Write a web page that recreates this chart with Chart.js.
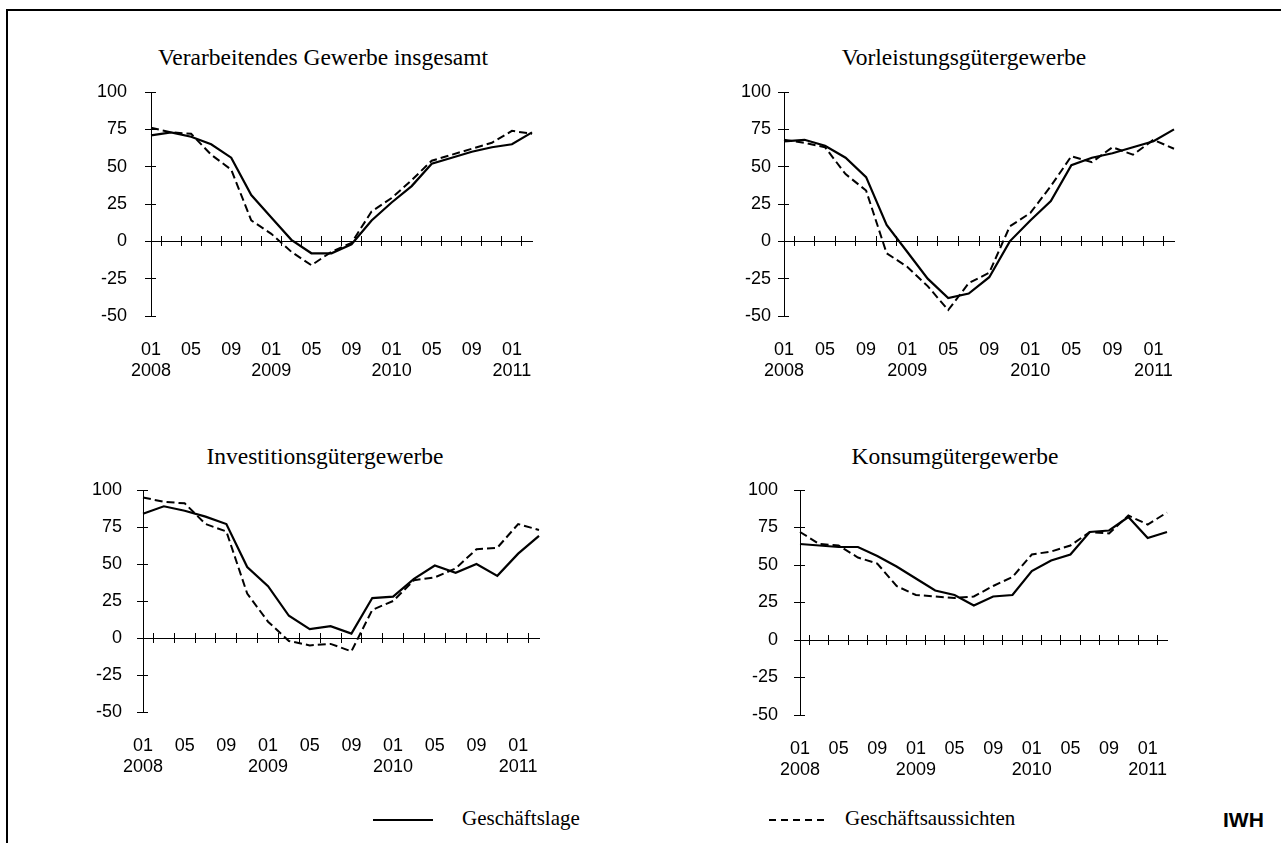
<!DOCTYPE html>
<html lang="de">
<head>
<meta charset="utf-8">
<title>Geschäftslage und Geschäftsaussichten</title>
<script src="https://cdn.jsdelivr.net/npm/chart.js@4.4.1/dist/chart.umd.min.js"></script>
<style>
    body { margin: 0; background: #fff; width: 1281px; height: 843px; overflow: hidden; position: relative; }
    .frame { position: absolute; left: 6px; top: 9px; width: 1300px; height: 900px; border-left: 2px solid #000; border-top: 2px solid #000; }
    canvas { position: absolute; }
    .title { position: absolute; width: 500px; text-align: center; font: 23.5px/1 "Liberation Serif", "Times New Roman", serif; color: #000; }
    .legend-text { position: absolute; font: 21px/1 "Liberation Serif", "Times New Roman", serif; color: #000; white-space: nowrap; }
    .legend-line { position: absolute; height: 0; }
    .source { position: absolute; font: bold 21px/1 "Liberation Sans", Arial, sans-serif; color: #000; }
</style>
</head>
<body>
<div class="frame"></div>

<div class="legend-line" style="left:373px; top:819px; width:60px; border-top:2px solid #000;"></div>
<div class="legend-text" style="left:462px; top:808px;">Geschäftslage</div>
<svg class="legend-line" style="left:769px; top:815px; width:60px; height:10px;" width="60" height="10">
    <line x1="0" y1="5" x2="58" y2="5" stroke="#000" stroke-width="2" stroke-dasharray="7 5"></line>
</svg>
<div class="legend-text" style="left:845px; top:808px;">Geschäftsaussichten</div>
<div class="source" style="left:1223px; top:809px;">IWH</div>

<script>
// zweimonatliche Werte, 01/2008 bis 03/2011
const periods = [
    '01/2008', '03/2008', '05/2008', '07/2008', '09/2008', '11/2008',
    '01/2009', '03/2009', '05/2009', '07/2009', '09/2009', '11/2009',
    '01/2010', '03/2010', '05/2010', '07/2010', '09/2010', '11/2010',
    '01/2011', '03/2011'
];
const monthLabels = ['01', '', '05', '', '09', '', '01', '', '05', '', '09', '', '01', '', '05', '', '09', '', '01', ''];
const yearLabels = ['2008', '', '', '', '', '', '2009', '', '', '', '', '', '2010', '', '', '', '', '', '2011', ''];
const yTicks = [-50, -25, 0, 25, 50, 75, 100];

const lageGesamt = [71, 73, 70, 65, 56, 31, 16, 1, -8, -8, -2, 14, 26, 37, 52, 56, 60, 63, 65, 73];
const aussichtGesamt = [76, 73, 72, 58, 48, 14, 5, -7, -16, -7, -1, 20, 29, 41, 54, 58, 62, 66, 74, 72];

const lageVorleistung = [67, 68, 64, 56, 43, 11, -7, -25, -38, -35, -24, 0, 14, 27, 51, 56, 59, 63, 67, 75];
const aussichtVorleistung = [68, 66, 63, 45, 34, -8, -17, -30, -46, -28, -21, 10, 19, 37, 57, 53, 63, 58, 68, 62];

const lageInvestition = [84, 89, 86, 82, 77, 48, 35, 15, 6, 8, 3, 27, 28, 40, 49, 44, 50, 42, 57, 69];
const aussichtInvestition = [95, 92, 91, 77, 72, 30, 11, -2, -5, -4, -9, 19, 25, 39, 41, 47, 60, 61, 77, 73];

const lageKonsum = [64, 63, 62, 62, 56, 49, 41, 33, 30, 23, 29, 30, 46, 53, 57, 72, 73, 82, 68, 72];
const aussichtKonsum = [72, 64, 63, 55, 51, 36, 30, 29, 28, 29, 36, 42, 57, 59, 63, 72, 71, 83, 77, 85];

const AXIS_W = 90;   // Breite der y-Achse im Canvas
const AXIS_H = 70;   // Hoehe der x-Achse im Canvas
const PAD_T = 40;
const PAD_R = 20;

const panels = [
    { title: 'Verarbeitendes Gewerbe insgesamt', lage: lageGesamt, aussicht: aussichtGesamt,
      left: 151, right: 536, top: 92, bottom: 316, labelPad: 18, titleX: 323, titleTop: 46 },
    { title: 'Vorleistungsgütergewerbe', lage: lageVorleistung, aussicht: aussichtVorleistung,
      left: 784, right: 1178, top: 92, bottom: 316, labelPad: 7, titleX: 964, titleTop: 46 },
    { title: 'Investitionsgütergewerbe', lage: lageInvestition, aussicht: aussichtInvestition,
      left: 143, right: 543, top: 490, bottom: 712, labelPad: 15, titleX: 325, titleTop: 445 },
    { title: 'Konsumgütergewerbe', lage: lageKonsum, aussicht: aussichtKonsum,
      left: 800, right: 1171, top: 490, bottom: 715, labelPad: 16, titleX: 955, titleTop: 445 }
];

Chart.defaults.font.family = '"Liberation Sans", Arial, sans-serif';
Chart.defaults.font.size = 18;
Chart.defaults.color = '#000';

function setYTicks(scale) {
    scale.ticks = yTicks.map(v => ({ value: v }));
}

function createPanel(panel) {
    const title = document.createElement('div');
    title.className = 'title';
    title.textContent = panel.title;
    title.style.left = (panel.titleX - 250) + 'px';
    title.style.top = panel.titleTop + 'px';
    document.body.appendChild(title);

    const w = panel.right - panel.left + AXIS_W + PAD_R;
    const h = panel.bottom - panel.top + PAD_T + AXIS_H;
    const canvas = document.createElement('canvas');
    canvas.width = w;
    canvas.height = h;
    canvas.style.left = (panel.left - AXIS_W) + 'px';
    canvas.style.top = (panel.top - PAD_T) + 'px';
    canvas.style.width = w + 'px';
    canvas.style.height = h + 'px';
    document.body.appendChild(canvas);

    return new Chart(canvas, {
        type: 'line',
        data: {
            labels: periods,
            datasets: [{
                label: 'Geschäftsaussichten',
                data: panel.aussicht,
                borderColor: '#000',
                borderWidth: 2,
                borderDash: [8, 4],
                pointRadius: 0,
                tension: 0,
                fill: false
            }, {
                label: 'Geschäftslage',
                data: panel.lage,
                borderColor: '#000',
                borderWidth: 2.2,
                pointRadius: 0,
                tension: 0,
                fill: false
            }]
        },
        options: {
            responsive: false,
            animation: false,
            events: [],
            layout: { padding: { top: PAD_T, right: PAD_R, left: 0, bottom: 0 } },
            plugins: {
                legend: { display: false },
                tooltip: { enabled: false }
            },
            scales: {
                x: {
                    type: 'category',
                    position: 'bottom',
                    grid: { display: false, drawTicks: false },
                    border: { display: false },
                    ticks: {
                        autoSkip: false,
                        maxRotation: 0,
                        padding: 24,
                        font: { size: 18, lineHeight: 1.15 },
                        callback: (value, index) => [monthLabels[index], yearLabels[index]]
                    },
                    afterFit: scale => { scale.height = AXIS_H; }
                },
                y: {
                    type: 'linear',
                    position: 'left',
                    min: yTicks[0],
                    max: yTicks[yTicks.length - 1],
                    afterBuildTicks: setYTicks,
                    grid: { drawOnChartArea: false, tickLength: 6, color: '#000', lineWidth: 1 },
                    border: { color: '#000', width: 1 },
                    ticks: { padding: panel.labelPad, font: { size: 18 } },
                    afterFit: scale => { scale.width = AXIS_W; }
                },
                // Nulllinie als Rubrikenachse
                xz: {
                    type: 'category',
                    position: { y: 0 },
                    grid: { display: false },
                    border: { color: '#000', width: 1 },
                    ticks: { display: false }
                },
                // Teilstriche zwischen den Rubriken, ueber die Nulllinie hinweg
                xt: {
                    type: 'category',
                    position: { y: 3.4 },
                    grid: { offset: true, drawOnChartArea: false, tickLength: 10, color: '#000', lineWidth: 1 },
                    border: { display: false },
                    ticks: { display: false }
                },
                yt: {
                    type: 'linear',
                    position: { x: 0.25 },
                    min: yTicks[0],
                    max: yTicks[yTicks.length - 1],
                    afterBuildTicks: setYTicks,
                    grid: { drawOnChartArea: false, tickLength: 5, color: '#000', lineWidth: 1 },
                    border: { display: false },
                    ticks: { display: false }
                }
            }
        }
    });
}

panels.forEach(createPanel);
</script>
</body>
</html>
